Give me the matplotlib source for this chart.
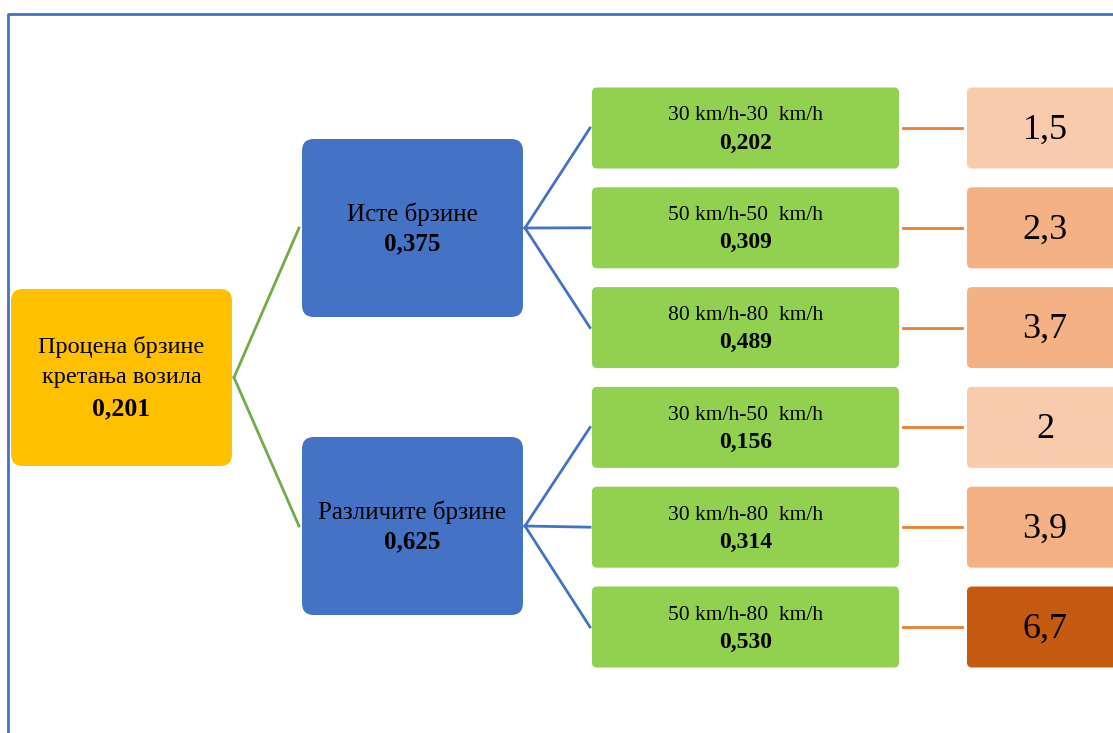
import matplotlib
matplotlib.use("Agg")
import matplotlib.pyplot as plt
from matplotlib.patches import FancyBboxPatch

plt.rcParams['font.family'] = ['Liberation Serif', 'DejaVu Serif']

# data
root_label = ["Процена брзине", "кретања возила"]
root_weight = "0,201"
group_labels = ["Исте брзине", "Различите брзине"]
group_weights = ["0,375", "0,625"]
leaf_labels = ["30 km/h-30  km/h", "50 km/h-50  km/h", "80 km/h-80  km/h",
               "30 km/h-50  km/h", "30 km/h-80  km/h", "50 km/h-80  km/h"]
leaf_weights = ["0,202", "0,309", "0,489", "0,156", "0,314", "0,530"]
leaf_group = [0, 0, 0, 1, 1, 1]
scores = ["1,5", "2,3", "3,7", "2", "3,9", "6,7"]
score_colors = ["#F8CBAD", "#F4B183", "#F4B183", "#F8CBAD", "#F4B183", "#C55A11"]

GOLD = "#FFC000"
BLUE = "#4472C4"
GREEN = "#92D050"
LINE_GREEN = "#70AD47"
ORANGE = "#ED7D31"

fig = plt.figure(figsize=(11.13, 7.33), dpi=100)
ax = fig.add_axes([0, 0, 1, 1])
ax.set_xlim(0, 1113)
ax.set_ylim(733, 0)
ax.axis('off')


def box(x0, y0, x1, y1, color, rad):
    p = FancyBboxPatch((x0 + rad, y0 + rad), (x1 - x0) - 2 * rad, (y1 - y0) - 2 * rad,
                       boxstyle="round,pad=%s" % rad, fc=color, ec='none', zorder=2)
    ax.add_patch(p)


# frame
ax.plot([8, 8, 1200], [800, 14, 14], color=BLUE, lw=2, zorder=1, clip_on=True)

# root
root_x = (11, 232)
root_y = (289, 466)
root_c = (root_y[0] + root_y[1]) / 2
box(root_x[0], root_y[0], root_x[1], root_y[1], GOLD, 12)
rx = (root_x[0] + root_x[1]) / 2
for i, s in enumerate(root_label):
    ax.text(rx, root_c - 31 + 31 * i, s, ha='center', va='center', fontsize=17.5, zorder=3)
ax.text(rx, root_c + 31, root_weight, ha='center', va='center', fontsize=18.5,
        fontweight='bold', zorder=3)

# groups
mid_x = (302, 523)
mid_h = 178
mid_c = [228, 526]
for g, c in enumerate(mid_c):
    box(mid_x[0], c - mid_h / 2, mid_x[1], c + mid_h / 2, BLUE, 12)
    mx = (mid_x[0] + mid_x[1]) / 2
    ax.text(mx, c - 14, group_labels[g], ha='center', va='center', fontsize=18, zorder=3)
    ax.text(mx, c + 16, group_weights[g], ha='center', va='center', fontsize=18,
            fontweight='bold', zorder=3)
    ax.plot([root_x[1] + 2, mid_x[0] - 3], [root_c, c], color=LINE_GREEN, lw=2, zorder=1)

# leaves
leaf_x = (592, 899)
leaf_h = 81
score_x = (967, 1125)
for i, lab in enumerate(leaf_labels):
    c = 128 + 99.8 * i
    box(leaf_x[0], c - leaf_h / 2, leaf_x[1], c + leaf_h / 2, GREEN, 5)
    lx = (leaf_x[0] + leaf_x[1]) / 2
    ax.text(lx, c - 12, lab, ha='center', va='center', fontsize=15.5, zorder=3)
    ax.text(lx, c + 15, leaf_weights[i], ha='center', va='center', fontsize=17,
            fontweight='bold', zorder=3)
    ax.plot([mid_x[1] + 2, leaf_x[0] - 2], [mid_c[leaf_group[i]], c], color=BLUE,
            lw=2, zorder=1)
    ax.plot([903, 962], [c, c], color=ORANGE, lw=2, zorder=1)
    box(score_x[0], c - leaf_h / 2, score_x[1], c + leaf_h / 2, score_colors[i], 5)
    ax.text(1045, c + 2, scores[i], ha='center', va='center', fontsize=26, zorder=3)

fig.savefig("out.png", dpi=100)
